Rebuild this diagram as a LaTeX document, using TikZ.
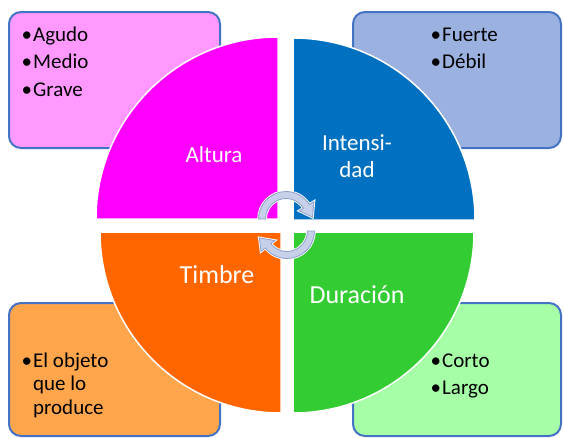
\documentclass[tikz,border=0pt]{standalone}
\usepackage{fontspec}
\setmainfont{Carlito}
\usepackage{tikz}
\definecolor{alturafill}{HTML}{FF00FF}
\definecolor{intensfill}{HTML}{0070C0}
\definecolor{timbrefill}{HTML}{FF6600}
\definecolor{duracfill}{HTML}{33CC33}
\definecolor{alturabg}{HTML}{FF99FF}
\definecolor{intensbg}{HTML}{9BB1E0}
\definecolor{timbrebg}{HTML}{FFA64D}
\definecolor{duracbg}{HTML}{A6FFA6}
\definecolor{boxline}{HTML}{4472C4}
\definecolor{cyclefill}{HTML}{C7D0E9}
\definecolor{cycleline}{HTML}{8E9FCC}

\begin{document}
\begin{tikzpicture}[
  x=1pt, y=-1pt,
  infobox/.style={rectangle, rounded corners=12pt, draw=boxline, line width=2pt, minimum width=211pt, minimum height=136pt, inner sep=0pt},
  quadrant/.style={draw=white, line width=1.5pt},
  bigtag/.style={text=white, font=\fontsize{23}{27}\selectfont, align=center, inner sep=0pt},
  hugetag/.style={text=white, font=\fontsize{26}{30}\selectfont, inner sep=0pt},
  itemlist/.style={anchor=base west, inner sep=0pt, font=\fontsize{21}{23.5}\selectfont},
  cyclearrow/.style={preaction={draw=white, line width=2.6pt}, fill=cyclefill, draw=cycleline, line width=0.8pt}
]
  \useasboundingbox (0,0) rectangle (564,437);

  % side boxes
  \node[infobox, fill=alturabg] (alturabox) at (114.5,80) {};
  \node[infobox, fill=intensbg, minimum width=208pt] (intensbox) at (457,80) {};
  \node[infobox, fill=timbrebg, minimum height=133pt] (timbrebox) at (114.5,369.5) {};
  \node[infobox, fill=duracbg, minimum width=208pt, minimum height=133pt] (duracbox) at (457,369.5) {};

  % circle in four parts
  \filldraw[quadrant, fill=alturafill] (278,219) -- (96,219) arc[start angle=180, end angle=270, radius=182] -- cycle;
  \filldraw[quadrant, fill=intensfill] (293,220) -- (293,38) arc[start angle=270, end angle=360, radius=182] -- cycle;
  \filldraw[quadrant, fill=timbrefill] (281,232) -- (100,232) arc[start angle=180, end angle=90, radius=181] -- cycle;
  \filldraw[quadrant, fill=duracfill] (293,232) -- (474,232) arc[start angle=0, end angle=90, radius=181] -- cycle;

  % labels
  \node[bigtag] (altura) at (214,155) {Altura};
  \node[bigtag] (intens) at (357,156.5) {Intensi-\\dad};
  \node[hugetag] (timbre) at (217,275) {Timbre};
  \node[hugetag] (durac) at (357,295) {Duración};

  % lists
  \node[itemlist] (alturalist) at (21.5,41) {%
    \begin{tabular}[t]{@{}l@{\hspace{1pt}}l@{}}
      • & Agudo \\[4pt]
      • & Medio \\[4pt]
      • & Grave
    \end{tabular}};
  \node[itemlist] (intenslist) at (430.5,41) {%
    \begin{tabular}[t]{@{}l@{\hspace{1pt}}l@{}}
      • & Fuerte \\[4pt]
      • & Débil
    \end{tabular}};
  \node[itemlist] (timbrelist) at (21.5,367) {%
    \begin{tabular}[t]{@{}l@{\hspace{1pt}}l@{}}
      • & El objeto \\
        & que lo \\
        & produce
    \end{tabular}};
  \node[itemlist] (duraclist) at (430.5,367) {%
    \begin{tabular}[t]{@{}l@{\hspace{1pt}}l@{}}
      • & Corto \\[4pt]
      • & Largo
    \end{tabular}};

  % cycle arrows
  \begin{scope}[shift={(286,219)}]
    \filldraw[cyclearrow] (180:27.5) arc[start angle=180, end angle=328, radius=27.5]
      -- (328:33) -- (356:26.5) -- (328:15.5) -- (328:20.5)
      arc[start angle=328, end angle=180, radius=20.5] -- cycle;
  \end{scope}
  \begin{scope}[shift={(287,231)}]
    \filldraw[cyclearrow] (0:27.5) arc[start angle=0, end angle=142, radius=27.5]
      -- (142:33) -- (166:28.5) -- (142:15.5) -- (142:20.5)
      arc[start angle=142, end angle=0, radius=20.5] -- cycle;
  \end{scope}
\end{tikzpicture}
\end{document}
